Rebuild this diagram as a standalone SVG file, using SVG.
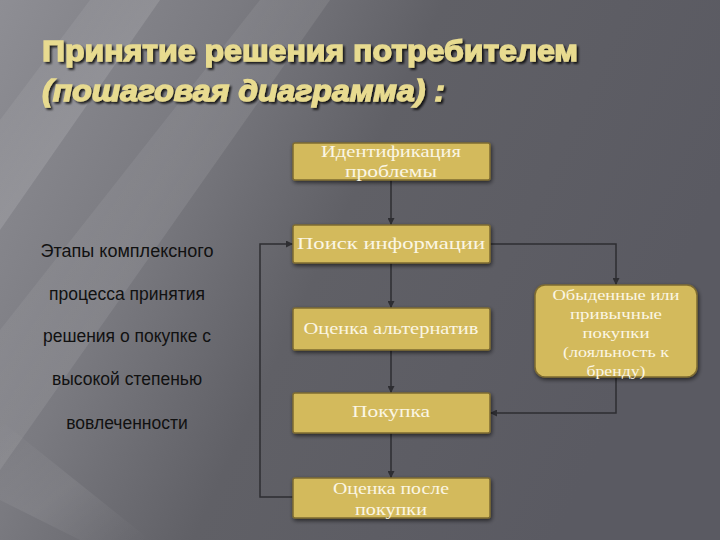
<svg xmlns="http://www.w3.org/2000/svg" width="720" height="540" viewBox="0 0 720 540">
<defs>
<linearGradient id="bg" x1="0" y1="0" x2="1" y2="0.35">
<stop offset="0" stop-color="#8e8e94"/>
<stop offset="0.3" stop-color="#7a7a80"/>
<stop offset="0.55" stop-color="#606066"/>
<stop offset="1" stop-color="#5a5a62"/>
</linearGradient>
<linearGradient id="streak" x1="0" y1="0" x2="1" y2="1">
<stop offset="0" stop-color="#ffffff" stop-opacity="0"/>
<stop offset="0.5" stop-color="#ffffff" stop-opacity="0.12"/>
<stop offset="1" stop-color="#ffffff" stop-opacity="0"/>
</linearGradient>
<filter id="sh" x="-10%" y="-20%" width="120%" height="140%">
<feGaussianBlur in="SourceAlpha" stdDeviation="2"/>
<feOffset dx="1" dy="2"/>
<feComponentTransfer><feFuncA type="linear" slope="0.6"/></feComponentTransfer>
<feMerge><feMergeNode/><feMergeNode in="SourceGraphic"/></feMerge>
</filter>
<filter id="tsh" x="-5%" y="-30%" width="110%" height="160%">
<feGaussianBlur in="SourceAlpha" stdDeviation="1.2"/>
<feOffset dx="1.5" dy="1.5"/>
<feComponentTransfer><feFuncA type="linear" slope="0.8"/></feComponentTransfer>
<feMerge><feMergeNode/><feMergeNode in="SourceGraphic"/></feMerge>
</filter>
<marker id="arr" viewBox="0 0 10 10" refX="10" refY="5" markerWidth="7" markerHeight="7" orient="auto" markerUnits="userSpaceOnUse">
<path d="M0,0 L10,5 L0,10 z" fill="#2e2e32"/>
</marker>
</defs>
<style>
.box{fill:#d3ba5c;stroke:#7d6b30;stroke-width:1.5;filter:url(#sh)}
.bt{font-family:"Liberation Serif","DejaVu Serif",serif;font-size:17px;fill:#fbf6e4;text-anchor:middle}
.rt{font-family:"Liberation Serif","DejaVu Serif",serif;font-size:15px;fill:#fbf6e4;text-anchor:middle}
.lt{font-family:"Liberation Sans",Arial,sans-serif;font-size:17.5px;fill:#111;text-anchor:middle}
.title{font-family:"Liberation Sans",Arial,sans-serif;font-weight:bold;font-size:30px;fill:#e8db90;stroke:#e8db90;stroke-width:1.3;filter:url(#tsh)}
.conn{fill:none;stroke:#2e2e32;stroke-width:1.5}
</style>
<rect width="720" height="540" fill="url(#bg)"/>
<polygon points="0,120 90,0 160,0 0,230" fill="url(#streak)"/>
<polygon points="0,330 260,0 330,0 0,470" fill="url(#streak)" opacity="0.7"/>
<polygon points="0,500 80,540 150,540 0,420" fill="url(#streak)" opacity="0.6"/>

<g id="title">
<text class="title" x="42" y="61" textLength="536" lengthAdjust="spacingAndGlyphs">Принятие решения потребителем</text>
<text class="title" x="42" y="101" font-style="italic" textLength="403" lengthAdjust="spacingAndGlyphs">(пошаговая диаграмма) :</text>
</g>

<g id="side-text">
<text class="lt" x="127" y="257" textLength="173" lengthAdjust="spacingAndGlyphs">Этапы комплексного</text>
<text class="lt" x="127" y="300">процесса принятия</text>
<text class="lt" x="127" y="342">решения о покупке с</text>
<text class="lt" x="127" y="385">высокой степенью</text>
<text class="lt" x="127" y="429">вовлеченности</text>
</g>

<g id="connectors">
<path class="conn" d="M391,180 V225" marker-end="url(#arr)"/>
<path class="conn" d="M391,263 V308" marker-end="url(#arr)"/>
<path class="conn" d="M391,350 V393" marker-end="url(#arr)"/>
<path class="conn" d="M391,433 V478" marker-end="url(#arr)"/>
<path class="conn" d="M293,497 H260 V244 H293" marker-end="url(#arr)"/>
<path class="conn" d="M490,244 H616 V285" marker-end="url(#arr)"/>
<path class="conn" d="M616,377 V413 H490" marker-end="url(#arr)"/>
</g>

<g id="node-identify">
<rect class="box" x="293" y="143" width="197" height="37" rx="2"/>
<text class="bt" x="391" y="157" textLength="140" lengthAdjust="spacingAndGlyphs">Идентификация</text>
<text class="bt" x="391" y="177" textLength="92" lengthAdjust="spacingAndGlyphs">проблемы</text>
</g>
<g id="node-search">
<rect class="box" x="293" y="225" width="197" height="38" rx="2"/>
<text class="bt" x="391" y="249" textLength="188" lengthAdjust="spacingAndGlyphs">Поиск информации</text>
</g>
<g id="node-evaluate">
<rect class="box" x="293" y="308" width="197" height="42" rx="2"/>
<text class="bt" x="391" y="334" textLength="175" lengthAdjust="spacingAndGlyphs">Оценка альтернатив</text>
</g>
<g id="node-purchase">
<rect class="box" x="293" y="393" width="197" height="40" rx="2"/>
<text class="bt" x="391" y="417" textLength="78" lengthAdjust="spacingAndGlyphs">Покупка</text>
</g>
<g id="node-post">
<rect class="box" x="293" y="478" width="197" height="40" rx="2"/>
<text class="bt" x="391" y="494" textLength="116" lengthAdjust="spacingAndGlyphs">Оценка после</text>
<text class="bt" x="391" y="515" textLength="72" lengthAdjust="spacingAndGlyphs">покупки</text>
</g>
<g id="node-habitual">
<rect class="box" x="535" y="285" width="162" height="92" rx="10"/>
<text class="rt" x="616" y="300" textLength="127" lengthAdjust="spacingAndGlyphs">Обыденные или</text>
<text class="rt" x="616" y="319" textLength="92" lengthAdjust="spacingAndGlyphs">привычные</text>
<text class="rt" x="616" y="338" textLength="67" lengthAdjust="spacingAndGlyphs">покупки</text>
<text class="rt" x="616" y="357" textLength="106" lengthAdjust="spacingAndGlyphs">(лояльность к</text>
<text class="rt" x="616" y="376" textLength="59" lengthAdjust="spacingAndGlyphs">бренду)</text>
</g>
</svg>
